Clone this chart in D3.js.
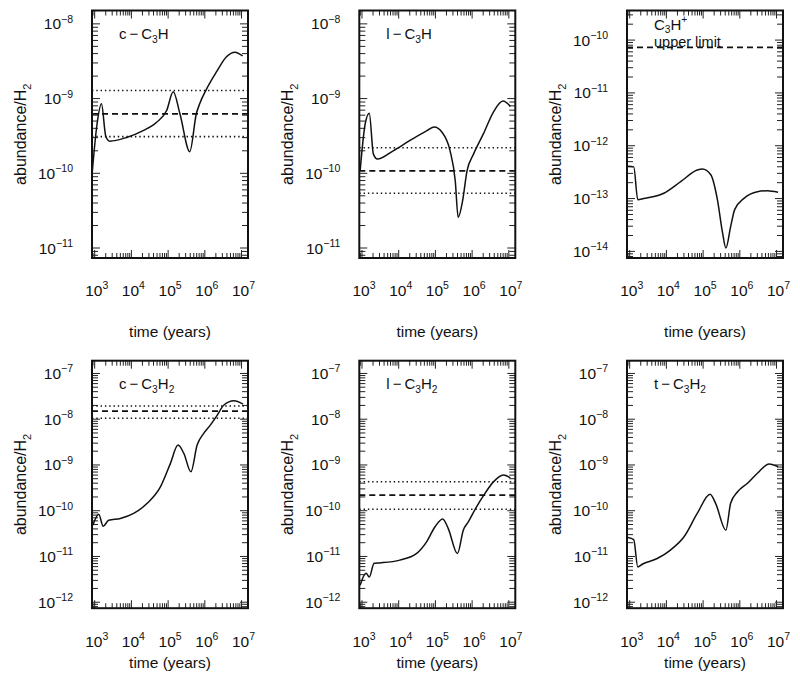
<!DOCTYPE html>
<html><head><meta charset="utf-8">
<script src="https://cdn.jsdelivr.net/npm/d3@7"></script>
<style>
body{margin:0;background:#fff}
text{font-family:"Liberation Sans",Arial,Helvetica,sans-serif;fill:#111}
</style>
</head><body>
<svg id="chart" width="800" height="682"></svg>
<script>
// ---------- DATA ----------
const timeDomain = [845, 1.5e7];
const timeTickValues = [1e3, 1e4, 1e5, 1e6, 1e7];

// c-C3H
const cC3H_time = [8.5e2,1.16e3,1.53e3,2.0e3,2.57e3,7.41e3,2.09e4,4.79e4,9.12e4,1.38e5,2.09e5,3.89e5,5.89e5,7.24e5,1.12e6,2.09e6,3.89e6,6.61e6,1.07e7];
const cC3H_abund = [9.8e-11,4.57e-10,8.5e-10,3.16e-10,2.69e-10,3.02e-10,3.72e-10,4.79e-10,6.92e-10,1.23e-9,6.31e-10,1.95e-10,6.31e-10,8.51e-10,1.35e-9,2.29e-9,3.63e-9,4.17e-9,3.72e-9];
const cC3H_obs = [6.25e-10, 3.1e-10, 1.28e-9]; // observed, lower, upper

// l-C3H
const lC3H_time = [8.91e2,1.22e3,1.58e3,2.04e3,2.63e3,7.08e3,2.04e4,5.89e4,9.33e4,1.51e5,2.51e5,3.47e5,4.17e5,5.5e5,7.24e5,1.10e6,2.04e6,3.80e6,6.92e6,1.10e7];
const lC3H_abund = [1.08e-10,4.57e-10,6.38e-10,1.82e-10,1.55e-10,2.0e-10,2.75e-10,3.72e-10,4.17e-10,3.55e-10,2.0e-10,7.94e-11,2.57e-11,4.27e-11,1.07e-10,1.82e-10,3.39e-10,6.61e-10,9.25e-10,7.85e-10];
const lC3H_obs = [1.08e-10, 5.4e-11, 2.2e-10];

// C3H+
const C3Hp_time = [8.91e2,1.29e3,1.66e3,2.40e3,8.51e3,2.45e4,6.92e4,9.55e4,1.62e5,2.45e5,3.39e5,4.17e5,5.62e5,7.24e5,1.32e6,3.02e6,5.62e6,1.10e7];
const C3Hp_abund = [4.07e-13,3.98e-13,9.55e-14,1.0e-13,1.26e-13,2.09e-13,3.47e-13,3.63e-13,2.82e-13,9.55e-14,2.24e-14,1.16e-14,2.95e-14,6.17e-14,1.02e-13,1.35e-13,1.41e-13,1.32e-13];
const C3Hp_upperLimit = 7.3e-11;

// c-C3H2
const cC3H2_time = [8.91e2,1.29e3,1.70e3,2.40e3,5.01e3,1.15e4,2.69e4,6.17e4,1.15e5,1.86e5,2.69e5,4.17e5,6.17e5,9.33e5,1.41e6,2.19e6,3.31e6,6.17e6,1.10e7];
const cC3H2_abund = [4.84e-11,8.41e-11,4.57e-11,6.17e-11,6.76e-11,8.71e-11,1.45e-10,3.31e-10,1.07e-9,2.72e-9,1.78e-9,7.08e-10,2.72e-9,4.9e-9,7.41e-9,1.23e-8,2.04e-8,2.54e-8,2.14e-8];
const cC3H2_obs = [1.5e-8, 1.05e-8, 1.95e-8];

// l-C3H2
const lC3H2_time = [8.91e2,1.29e3,1.58e3,2.14e3,3.09e3,1.07e4,3.09e4,5.75e4,9.77e4,1.58e5,2.24e5,3.98e5,5.75e5,7.94e5,1.32e6,2.24e6,3.80e6,7.08e6,1.10e7];
const lC3H2_abund = [2.34e-12,4.27e-12,3.55e-12,7.08e-12,7.24e-12,8.32e-12,1.17e-11,2.09e-11,4.47e-11,6.61e-11,4.07e-11,1.16e-11,3.76e-11,5.75e-11,1.22e-10,2.4e-10,4.27e-10,6.03e-10,5.25e-10];
const lC3H2_obs = [2.2e-10, 1.08e-10, 4.3e-10];

// t-C3H2
const tC3H2_time = [8.91e2,1.29e3,1.66e3,2.19e3,5.62e3,1.29e4,3.02e4,6.92e4,1.55e5,2.19e5,4.17e5,5.62e5,8.71e5,1.62e6,3.02e6,6.31e6,1.10e7];
const tC3H2_abund = [2.6e-11,2.34e-11,5.89e-12,6.76e-12,9.02e-12,1.38e-11,2.69e-11,8.71e-11,2.29e-10,1.45e-10,3.76e-11,1.45e-10,2.59e-10,3.98e-10,6.61e-10,1.05e-9,9.12e-10];

const yDomainTop = [7.35e-12, 1.51e-8];
const yDomainCation = [7.5e-15, 3.63e-10];
const yDomainBottom = [7.4e-13, 1.9e-7];

// ---------- LAYOUT ----------
const colLeft = [92, 359.3, 627];
const rowTop = [10.5, 360.7];
const pw = 156, ph = 247.5;

const panels = [
  {col:0,row:0,t:cC3H_time,v:cC3H_abund,obs:cC3H_obs,yd:yDomainTop,title:[{t:"c\u2009\u2212\u2009C"},{t:"3",sub:1},{t:"H"}]},
  {col:1,row:0,t:lC3H_time,v:lC3H_abund,obs:lC3H_obs,yd:yDomainTop,title:[{t:"l\u2009\u2212\u2009C"},{t:"3",sub:1},{t:"H"}]},
  {col:2,row:0,t:C3Hp_time,v:C3Hp_abund,limit:C3Hp_upperLimit,yd:yDomainCation,title:[{t:"C"},{t:"3",sub:1},{t:"H"},{t:"+",sup:1}]},
  {col:0,row:1,t:cC3H2_time,v:cC3H2_abund,obs:cC3H2_obs,yd:yDomainBottom,title:[{t:"c\u2009\u2212\u2009C"},{t:"3",sub:1},{t:"H"},{t:"2",sub:1}]},
  {col:1,row:1,t:lC3H2_time,v:lC3H2_abund,obs:lC3H2_obs,yd:yDomainBottom,title:[{t:"l\u2009\u2212\u2009C"},{t:"3",sub:1},{t:"H"},{t:"2",sub:1}]},
  {col:2,row:1,t:tC3H2_time,v:tC3H2_abund,yd:yDomainBottom,title:[{t:"t\u2009\u2212\u2009C"},{t:"3",sub:1},{t:"H"},{t:"2",sub:1}]}
];

const svg = d3.select("#chart");

function rich(textSel, parts, size, subShift){
  let cur = 0;
  const ss = subShift===undefined ? 0.3 : subShift;
  parts.forEach(p=>{
    const target = p.sup ? -0.42*size : (p.sub ? ss*size : 0);
    const ts = textSel.append("tspan").text(p.t).attr("dy", target-cur);
    if(p.sup||p.sub) ts.attr("font-size", (size*0.68).toFixed(1)+"px");
    cur = target;
  });
}

function minorTicks(domain){
  const out=[];
  const lo=Math.floor(Math.log10(domain[0])), hi=Math.ceil(Math.log10(domain[1]));
  for(let e=lo;e<=hi;e++){
    for(let k=2;k<=9;k++){
      const v=k*Math.pow(10,e);
      if(v>domain[0]&&v<domain[1]) out.push(v);
    }
  }
  return out;
}
function majorTicks(domain){
  const out=[];
  const lo=Math.ceil(Math.log10(domain[0])-1e-9), hi=Math.floor(Math.log10(domain[1])+1e-9);
  for(let e=lo;e<=hi;e++) out.push(e);
  return out;
}

panels.forEach(p=>{
  const L = colLeft[p.col], T = rowTop[p.row];
  const x = d3.scaleLog().domain(timeDomain).range([L, L+pw]);
  const y = d3.scaleLog().domain(p.yd).range([T+ph, T]);
  const g = svg.append("g");

  // ticks on all four sides
  const tk = g.append("g").attr("stroke","#222").attr("stroke-width",1);
  const xMaj = timeTickValues, xMin = minorTicks(timeDomain);
  xMaj.forEach(v=>{
    tk.append("line").attr("x1",x(v)).attr("x2",x(v)).attr("y1",T+ph).attr("y2",T+ph-8);
    tk.append("line").attr("x1",x(v)).attr("x2",x(v)).attr("y1",T).attr("y2",T+8);
  });
  xMin.forEach(v=>{
    tk.append("line").attr("x1",x(v)).attr("x2",x(v)).attr("y1",T+ph).attr("y2",T+ph-5);
    tk.append("line").attr("x1",x(v)).attr("x2",x(v)).attr("y1",T).attr("y2",T+5);
  });
  const yMajE = majorTicks(p.yd), yMin = minorTicks(p.yd);
  yMajE.forEach(e=>{
    const yy=y(Math.pow(10,e));
    tk.append("line").attr("x1",L).attr("x2",L+8).attr("y1",yy).attr("y2",yy);
    tk.append("line").attr("x1",L+pw).attr("x2",L+pw-8).attr("y1",yy).attr("y2",yy);
  });
  yMin.forEach(v=>{
    const yy=y(v);
    tk.append("line").attr("x1",L).attr("x2",L+6).attr("y1",yy).attr("y2",yy);
    tk.append("line").attr("x1",L+pw).attr("x2",L+pw-6).attr("y1",yy).attr("y2",yy);
  });

  // y tick labels
  yMajE.forEach(e=>{
    const t = g.append("text").attr("x",L-19).attr("y",y(Math.pow(10,e))+5.5)
      .attr("text-anchor","end").attr("font-size","15.5px");
    rich(t,[{t:"10"},{t:"\u2212"+Math.abs(e),sup:1}],15.5);
  });
  // x tick labels
  const xlY = p.row===0 ? 295.5 : 647;
  xMaj.forEach(v=>{
    const t = g.append("text").attr("x",x(v)+2).attr("y",xlY)
      .attr("text-anchor","middle").attr("font-size","15.5px");
    rich(t,[{t:"10"},{t:String(Math.round(Math.log10(v))),sup:1}],15.5);
  });
  // axis titles
  g.append("text").attr("x",L+pw/2).attr("y",p.row===0?337:668)
    .attr("text-anchor","middle").attr("font-size","15.5px").text("time (years)");
  const yt = g.append("text").attr("transform",`translate(${L-66},${T+ph/2}) rotate(-90)`)
    .attr("text-anchor","middle").attr("font-size","16px");
  rich(yt,[{t:"abundance/H"},{t:"2",sub:1}],16);

  // observation lines
  if(p.obs){
    g.append("line").attr("x1",L).attr("x2",L+pw).attr("y1",y(p.obs[1])).attr("y2",y(p.obs[1]))
      .attr("stroke","#111").attr("stroke-width",1.6).attr("stroke-dasharray","1.4,2.9");
    g.append("line").attr("x1",L).attr("x2",L+pw).attr("y1",y(p.obs[2])).attr("y2",y(p.obs[2]))
      .attr("stroke","#111").attr("stroke-width",1.6).attr("stroke-dasharray","1.4,2.9");
    g.append("line").attr("x1",L).attr("x2",L+pw).attr("y1",y(p.obs[0])).attr("y2",y(p.obs[0]))
      .attr("stroke","#111").attr("stroke-width",1.8).attr("stroke-dasharray","6,4");
  }
  if(p.limit){
    g.append("line").attr("x1",L).attr("x2",L+pw).attr("y1",y(p.limit)).attr("y2",y(p.limit))
      .attr("stroke","#111").attr("stroke-width",1.8).attr("stroke-dasharray","6,4");
  }

  // model curve
  const pts = p.t.map((t,i)=>[t,p.v[i]]);
  const line = d3.line().x(d=>x(d[0])).y(d=>y(d[1])).curve(d3.curveMonotoneX);
  g.append("path").attr("d",line(pts)).attr("fill","none").attr("stroke","#111").attr("stroke-width",1.5);

  // title
  if(p.limit){
    const tt = g.append("text").attr("x",L+27).attr("y",T+19).attr("font-size","15px");
    rich(tt,p.title,15,0.2);
    g.append("text").attr("x",L+27).attr("y",T+36).attr("font-size","14.5px").text("upper limit");
  } else {
    const tt = g.append("text").attr("x",L+27).attr("y",T+28).attr("font-size","15px");
    rich(tt,p.title,15);
  }

  // frame
  g.append("rect").attr("x",L).attr("y",T).attr("width",pw).attr("height",ph)
    .attr("fill","none").attr("stroke","#111").attr("stroke-width",2);
});
</script>
</body></html>
